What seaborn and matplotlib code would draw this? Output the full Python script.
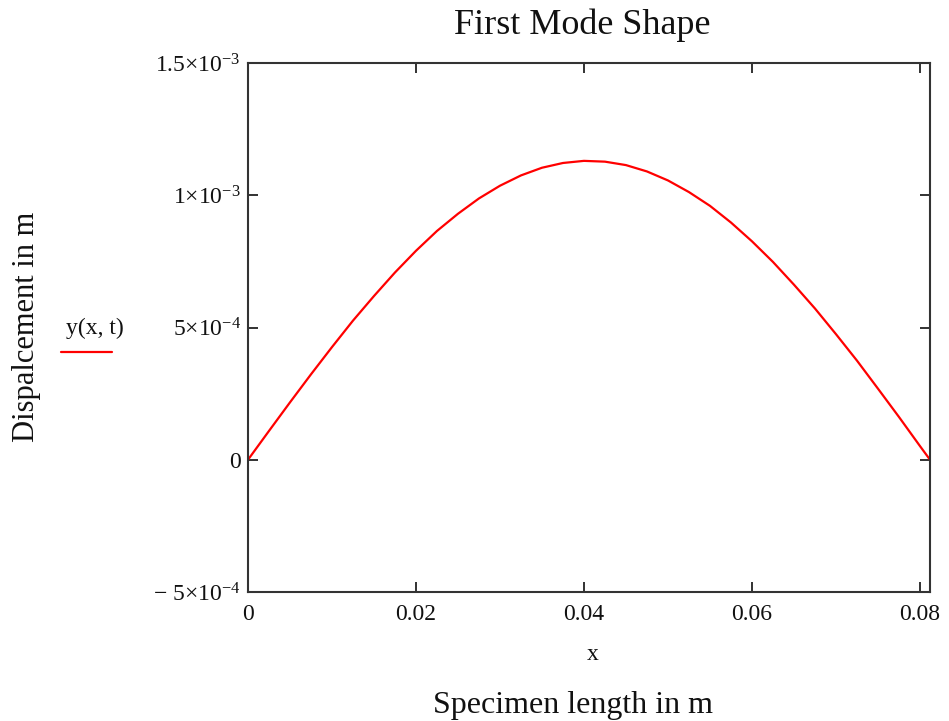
import matplotlib

matplotlib.use("Agg")
import matplotlib.pyplot as plt
import pandas as pd
import seaborn as sns

# displacement of the first mode (x in m, y in m)
x_pos = [0.0, 0.0025, 0.005, 0.0075, 0.01, 0.0125, 0.015, 0.0175, 0.02, 0.0225,
         0.025, 0.0275, 0.03, 0.0325, 0.035, 0.0375, 0.04, 0.0425, 0.045, 0.0475,
         0.05, 0.0525, 0.055, 0.0575, 0.06, 0.0625, 0.065, 0.0675, 0.07, 0.0725,
         0.075, 0.0775, 0.08, 0.0812]
y_disp = [0.0, 0.109, 0.217, 0.323, 0.426, 0.526, 0.619, 0.708, 0.790, 0.865,
          0.930, 0.988, 1.036, 1.075, 1.104, 1.122, 1.130, 1.127, 1.114, 1.090,
          1.056, 1.012, 0.960, 0.897, 0.826, 0.748, 0.662, 0.572, 0.475, 0.375,
          0.269, 0.162, 0.052, 0.0]
y_disp = [v * 1e-3 for v in y_disp]

x_ticks = [0.0, 0.02, 0.04, 0.06, 0.08]
x_tick_labels = ["0", "0.02", "0.04", "0.06", "0.08"]
y_ticks = [-5e-4, 0.0, 5e-4, 1e-3, 1.5e-3]
y_tick_labels = [r"$-\ 5{\times}10^{-4}$", "0", r"$5{\times}10^{-4}$",
                 r"$1{\times}10^{-3}$", r"$1.5{\times}10^{-3}$"]

sns.set_theme(style="white")
plt.rcParams["font.family"] = ["Liberation Serif", "DejaVu Serif"]
plt.rcParams["mathtext.fontset"] = "custom"
plt.rcParams["mathtext.rm"] = "Liberation Serif"
plt.rcParams["mathtext.it"] = "Liberation Serif"
plt.rcParams["mathtext.default"] = "rm"

frame = pd.DataFrame({"x": x_pos, "y": y_disp})

fig = plt.figure(figsize=(9.49, 7.21), dpi=100)
ax = fig.add_axes([248 / 949, 1 - 592 / 721, (930 - 248) / 949, (592 - 63) / 721])
sns.lineplot(data=frame, x="x", y="y", ax=ax, color="#ff0000", linewidth=1.6)

ax.set_xlim(0, 0.0812)
ax.set_ylim(-5e-4, 1.5e-3)
ax.set_xticks(x_ticks)
ax.set_xticklabels(x_tick_labels)
ax.set_yticks(y_ticks)
ax.set_yticklabels(y_tick_labels)
ax.tick_params(direction="in", length=7, width=1.3, colors="#222222",
               labelcolor="#111111", labelsize=17, top=True, right=True,
               bottom=True, left=True, pad=5)
ax.tick_params(axis="x", pad=9)
for spine in ax.spines.values():
    spine.set_linewidth(1.5)
    spine.set_color("#333333")
ax.set_xlabel("")
ax.set_ylabel("")

fig.text(582 / 949, 1 - 25 / 721, "First Mode Shape", ha="center", va="center",
         fontsize=26, color="#111111")
fig.text(593 / 949, 1 - 655 / 721, "x", ha="center", va="center", fontsize=17,
         color="#111111")
fig.text(573 / 949, 1 - 705 / 721, "Specimen length in m", ha="center", va="center",
         fontsize=23, color="#111111")
fig.text(27 / 949, 1 - 327 / 721, "Dispalcement in m", ha="center", va="center",
         rotation=90, fontsize=22, color="#111111")
fig.text(95 / 949, 1 - 328 / 721, "y(x, t)", ha="center", va="center",
         fontsize=17, color="#111111")
fig.add_artist(plt.Line2D([61 / 949, 112 / 949], [1 - 352 / 721, 1 - 352 / 721],
                          color="#ff0000", linewidth=1.6))

fig.savefig("out.png", dpi=100)
